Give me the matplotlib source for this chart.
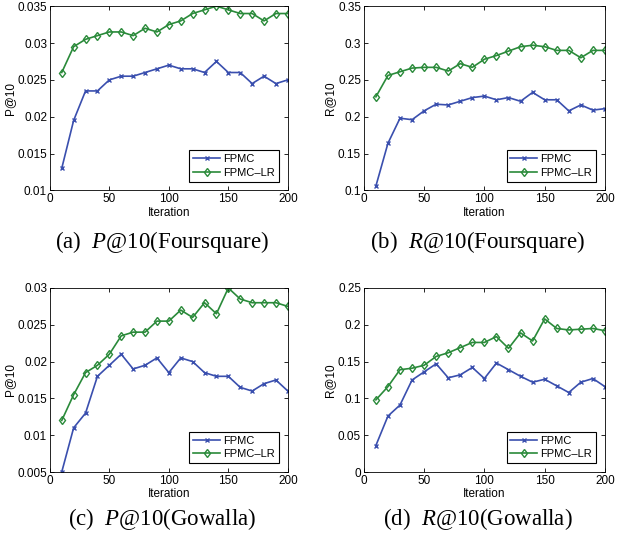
import numpy as np
import matplotlib
matplotlib.use("Agg")
import matplotlib.pyplot as plt

plt.rcParams['font.family'] = ['Liberation Sans', 'DejaVu Sans']
plt.rcParams['mathtext.fontset'] = 'custom'
plt.rcParams['mathtext.it'] = 'Liberation Serif:italic'
plt.rcParams['mathtext.rm'] = 'Liberation Serif'

iters = list(range(10, 201, 10))

# (a) P@10 Foursquare
p_fsq_fpmc = [0.013, 0.0195, 0.0235, 0.0235, 0.025, 0.0255, 0.0255, 0.026, 0.0265, 0.027,
              0.0265, 0.0265, 0.026, 0.0275, 0.026, 0.026, 0.0245, 0.0255, 0.0245, 0.025]
p_fsq_lr = [0.026, 0.0295, 0.0305, 0.031, 0.0315, 0.0315, 0.031, 0.032, 0.0315, 0.0325,
            0.033, 0.034, 0.0345, 0.035, 0.0345, 0.034, 0.034, 0.033, 0.034, 0.034]
# (b) R@10 Foursquare
r_fsq_fpmc = [0.106, 0.164, 0.198, 0.196, 0.208, 0.217, 0.216, 0.221, 0.226, 0.228,
              0.223, 0.226, 0.221, 0.233, 0.223, 0.223, 0.208, 0.216, 0.209, 0.211]
r_fsq_lr = [0.227, 0.256, 0.261, 0.266, 0.267, 0.267, 0.262, 0.272, 0.267, 0.278,
            0.283, 0.289, 0.295, 0.297, 0.295, 0.290, 0.290, 0.280, 0.290, 0.290]
# (c) P@10 Gowalla
p_gow_fpmc = [0.005, 0.011, 0.013, 0.018, 0.0195, 0.021, 0.019, 0.0195, 0.0205, 0.0185,
              0.0205, 0.020, 0.0185, 0.018, 0.018, 0.0165, 0.016, 0.017, 0.0175, 0.016]
p_gow_lr = [0.012, 0.0155, 0.0185, 0.0195, 0.021, 0.0235, 0.024, 0.024, 0.0255, 0.0255,
            0.027, 0.026, 0.028, 0.0265, 0.030, 0.0285, 0.028, 0.028, 0.028, 0.0275]
# (d) R@10 Gowalla
r_gow_fpmc = [0.036, 0.076, 0.091, 0.125, 0.136, 0.147, 0.128, 0.132, 0.142, 0.127,
              0.148, 0.139, 0.130, 0.122, 0.126, 0.117, 0.108, 0.122, 0.127, 0.116]
r_gow_lr = [0.098, 0.116, 0.139, 0.141, 0.145, 0.157, 0.162, 0.169, 0.176, 0.176,
            0.184, 0.168, 0.189, 0.178, 0.208, 0.195, 0.193, 0.194, 0.195, 0.192]

blue = '#3a4fae'
green = '#2a8a3a'

panels = [
    # rect, fpmc, lr, ylim, yticks, ticklabels, ylabel, caption, caption baseline
    ([0.080, 0.6466, 0.382, 0.342], p_fsq_fpmc, p_fsq_lr, (0.01, 0.035),
     [0.01, 0.015, 0.02, 0.025, 0.03, 0.035], ['0.01', '0.015', '0.02', '0.025', '0.03', '0.035'],
     'P@10', '(a)  $P$@10(Foursquare)', 1 - 248 / 539),
    ([0.584, 0.6466, 0.387, 0.342], r_fsq_fpmc, r_fsq_lr, (0.1, 0.35),
     [0.1, 0.15, 0.2, 0.25, 0.3, 0.35], ['0.1', '0.15', '0.2', '0.25', '0.3', '0.35'],
     'R@10', '(b)  $R$@10(Foursquare)', 1 - 248 / 539),
    ([0.080, 0.1243, 0.382, 0.3414], p_gow_fpmc, p_gow_lr, (0.005, 0.03),
     [0.005, 0.01, 0.015, 0.02, 0.025, 0.03], ['0.005', '0.01', '0.015', '0.02', '0.025', '0.03'],
     'P@10', '(c)  $P$@10(Gowalla)', 1 - 525 / 539),
    ([0.584, 0.1243, 0.387, 0.3414], r_gow_fpmc, r_gow_lr, (0, 0.25),
     [0, 0.05, 0.1, 0.15, 0.2, 0.25], ['0', '0.05', '0.1', '0.15', '0.2', '0.25'],
     'R@10', '(d)  $R$@10(Gowalla)', 1 - 525 / 539),
]

fig = plt.figure(figsize=(6.23, 5.39), dpi=100)

for rect, fp, lr, ylim, yt, ytl, ylab, cap, cy in panels:
    ax = fig.add_axes(rect)
    ax.plot(iters, fp, color=blue, lw=1.2, marker='x', ms=3, mew=1.0, label='FPMC')
    ax.plot(iters, lr, color=green, lw=1.2, marker='d', ms=4.5, mfc='none', mew=1.0, label='FPMC\u2013LR')
    ax.set_xlim(0, 200)
    ax.set_ylim(*ylim)
    ax.set_xticks([0, 50, 100, 150, 200])
    ax.set_yticks(yt)
    ax.set_yticklabels(ytl)
    ax.tick_params(direction='in', top=True, right=True, labelsize=8.5, length=3, width=0.6, pad=2)
    for s in ax.spines.values():
        s.set_linewidth(0.6)
    ax.set_xlabel('Iteration', fontsize=8.5, labelpad=1)
    ax.set_ylabel(ylab, fontsize=8.5, labelpad=1)
    leg = ax.legend(loc='lower right', fontsize=8, fancybox=False, edgecolor='black',
                    framealpha=1, handlelength=2.4, borderaxespad=0.8, borderpad=0.35,
                    labelspacing=0.3, handletextpad=0.3)
    leg.get_frame().set_linewidth(0.8)
    cx = rect[0] + rect[2] / 2 - 7 / 623
    fig.text(cx, cy, cap, ha='center', va='baseline', fontsize=16.5,
             family='Liberation Serif')

fig.savefig('out.png', dpi=100)
